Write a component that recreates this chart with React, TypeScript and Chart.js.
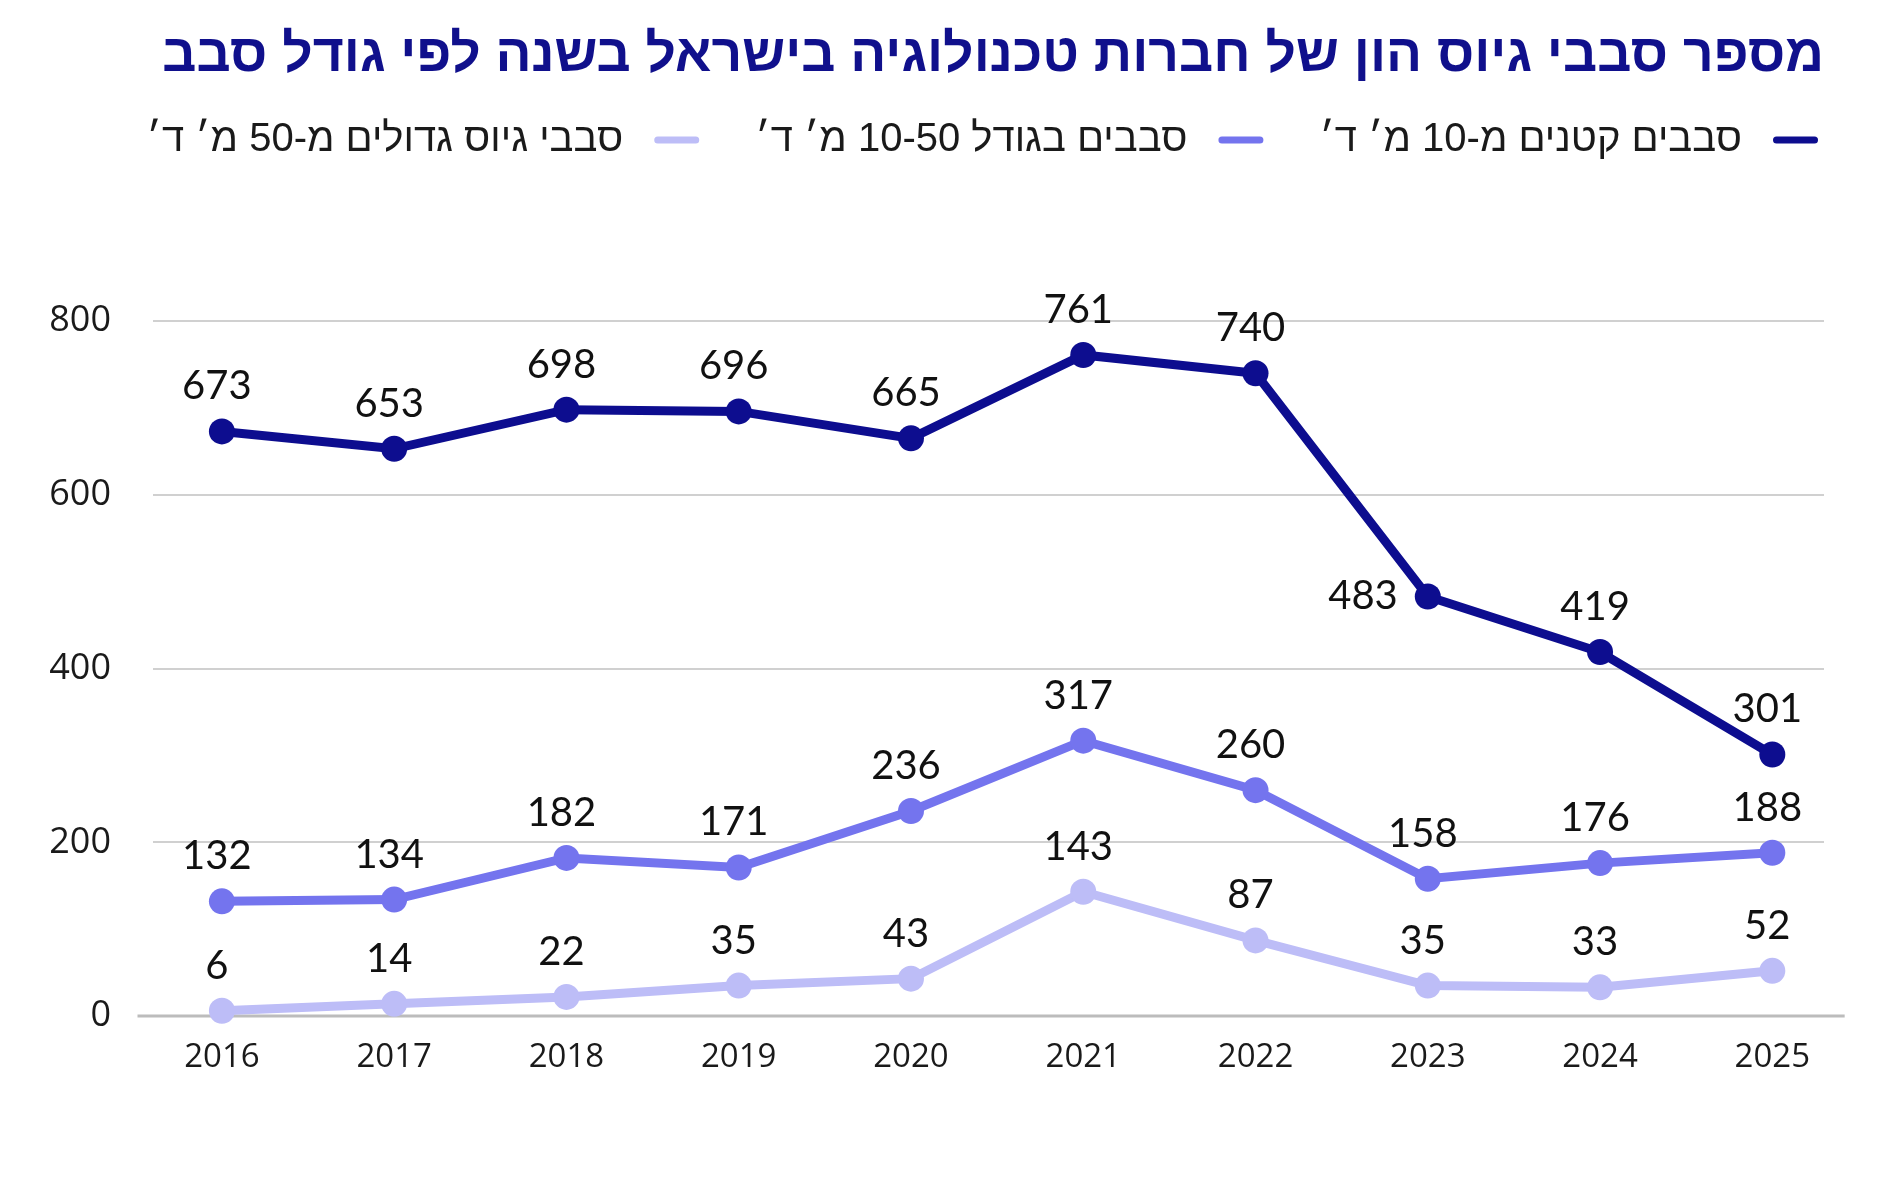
import { useEffect, useRef } from 'react';
import { Chart, registerables } from 'chart.js';

Chart.register(...registerables);

// Funding rounds of Israeli tech companies per year, by round size
const years = [2016, 2017, 2018, 2019, 2020, 2021, 2022, 2023, 2024, 2025];
const smallRounds = [673, 653, 698, 696, 665, 761, 740, 483, 419, 301];
const midRounds = [132, 134, 182, 171, 236, 317, 260, 158, 176, 188];
const largeRounds = [6, 14, 22, 35, 43, 143, 87, 35, 33, 52];
const seriesNames = [
  'סבבים קטנים מ-10 מ׳ ד׳',
  'סבבים בגודל 10-50 מ׳ ד׳',
  'סבבי גיוס גדולים מ-50 מ׳ ד׳',
];
const seriesColors = ['#0d0d8f', '#7474ee', '#bdbdf7'];
const yTickValues = [0, 200, 400, 600, 800];
const chartTitle = 'מספר סבבי גיוס הון של חברות טכנולוגיה בישראל בשנה לפי גודל סבב';

const HEBREW_FONT = '"Liberation Sans", "DejaVu Sans", sans-serif';
const AXIS_FONT = '"Open Sans", "Noto Sans", sans-serif';
const VALUE_FONT = 'Lato, "Open Sans", sans-serif';

// Legend drawn right-to-left above the plot
const rtlLegend = {
  id: 'rtlLegend',
  afterDraw(chart: any, _args: any, opts: any) {
    const { ctx } = chart;
    ctx.save();
    ctx.font = `${opts.fontSize}px ${opts.fontFamily}`;
    ctx.textBaseline = 'middle';
    ctx.direction = 'rtl';
    ctx.textAlign = 'right';
    let x = opts.right;
    const y = opts.y;
    chart.data.datasets.forEach((ds: any) => {
      const half = opts.lineWidth / 2;
      ctx.strokeStyle = ds.borderColor;
      ctx.lineWidth = opts.lineWidth;
      ctx.lineCap = 'round';
      ctx.beginPath();
      ctx.moveTo(x - half, y);
      ctx.lineTo(x - opts.sampleWidth + half, y);
      ctx.stroke();
      x -= opts.sampleWidth + opts.textGap;
      ctx.fillStyle = opts.color;
      ctx.fillText(ds.label, x, y);
      x -= ctx.measureText(ds.label).width + opts.itemGap;
    });
    ctx.restore();
  },
};

// Horizontal base line along y = 0, a little wider than the grid
const baseLine = {
  id: 'baseLine',
  beforeDatasetsDraw(chart: any, _args: any, opts: any) {
    const { ctx, scales } = chart;
    const y = scales.y.getPixelForValue(0);
    ctx.save();
    ctx.strokeStyle = opts.color;
    ctx.lineWidth = opts.width;
    ctx.beginPath();
    ctx.moveTo(scales.x.getPixelForValue(opts.from), y);
    ctx.lineTo(scales.x.getPixelForValue(opts.to), y);
    ctx.stroke();
    ctx.restore();
  },
};

// Value labels above each point
const valueLabels = {
  id: 'valueLabels',
  afterDatasetsDraw(chart: any, _args: any, opts: any) {
    const { ctx } = chart;
    ctx.save();
    ctx.font = `${opts.fontSize}px ${opts.fontFamily}`;
    ctx.fillStyle = opts.color;
    ctx.textBaseline = 'middle';
    chart.data.datasets.forEach((ds: any, di: number) => {
      const meta = chart.getDatasetMeta(di);
      meta.data.forEach((pt: any, i: number) => {
        const raw = ds.data[i];
        const text = String(raw.y);
        const side = opts.sideLabels.some((s: any) => s.dataset === di && s.index === i);
        if (side) {
          ctx.textAlign = 'right';
          ctx.fillText(text, pt.x - opts.sideGap, pt.y);
        } else {
          ctx.textAlign = 'center';
          ctx.fillText(text, pt.x + opts.dx, pt.y - opts.lift);
        }
      });
    });
    ctx.restore();
  },
};

export default function App() {
  const canvasRef = useRef<HTMLCanvasElement | null>(null);

  useEffect(() => {
    if (!canvasRef.current) return;
    const seriesValues = [smallRounds, midRounds, largeRounds];
    const chart = new Chart(canvasRef.current, {
      type: 'line',
      data: {
        datasets: seriesValues.map((vals, s) => ({
          label: seriesNames[s],
          data: vals.map((v, i) => ({ x: years[i], y: v })),
          borderColor: seriesColors[s],
          backgroundColor: seriesColors[s],
          pointBackgroundColor: seriesColors[s],
          pointBorderWidth: 0,
          pointRadius: 13,
          borderWidth: 9,
          tension: 0,
          clip: false,
        })),
      },
      plugins: [rtlLegend, baseLine, valueLabels],
      options: {
        animation: false,
        responsive: true,
        maintainAspectRatio: false,
        layout: { padding: { left: 0, right: 72, top: 0, bottom: 0 } },
        scales: {
          x: {
            type: 'linear',
            min: 2015.6,
            max: 2025.3,
            grid: { display: false },
            border: { display: false },
            afterBuildTicks: (scale: any) => {
              scale.ticks = years.map((v) => ({ value: v }));
            },
            afterFit: (scale: any) => {
              scale.height = 184;
            },
            ticks: {
              padding: 14,
              color: '#1a1a1a',
              font: { family: AXIS_FONT, size: 33 },
              callback: (v: any) => String(v),
              maxRotation: 0,
              autoSkip: false,
            },
          },
          y: {
            min: 0,
            max: 800,
            afterBuildTicks: (scale: any) => {
              scale.ticks = yTickValues.map((v) => ({ value: v }));
            },
            afterFit: (scale: any) => {
              scale.width = 153;
            },
            border: { display: false },
            grid: {
              drawTicks: false,
              lineWidth: 2,
              color: (c: any) => (c.tick && c.tick.value === 0 ? 'rgba(0,0,0,0)' : '#d0d0d0'),
            },
            ticks: {
              padding: 42,
              color: '#1a1a1a',
              font: { family: AXIS_FONT, size: 36 },
              callback: (v: any) => String(v),
            },
          },
        },
        plugins: {
          legend: { display: false },
          tooltip: { enabled: false },
          title: {
            display: true,
            text: chartTitle,
            align: 'end',
            color: '#10108c',
            font: { family: HEBREW_FONT, size: 53.4, weight: 'bold' },
            padding: { top: 24, bottom: 233 },
          },
          rtlLegend: {
            y: 140,
            right: 1818,
            sampleWidth: 45,
            lineWidth: 7,
            textGap: 31,
            itemGap: 56,
            fontSize: 40,
            fontFamily: HEBREW_FONT,
            color: '#1a1a1a',
          },
          baseLine: { from: 2015.51, to: 2025.42, color: '#bcbcbc', width: 3 },
          valueLabels: {
            fontSize: 40,
            fontFamily: VALUE_FONT,
            color: '#111111',
            lift: 45,
            dx: -5,
            sideGap: 30,
            sideLabels: [{ dataset: 0, index: 7 }],
          },
        } as any,
      },
    } as any);
    return () => chart.destroy();
  }, []);

  return (
    <div style={{ position: 'absolute', left: 0, top: 0, width: 1896, height: 1200, background: '#ffffff' }}>
      <canvas ref={canvasRef} />
    </div>
  );
}
